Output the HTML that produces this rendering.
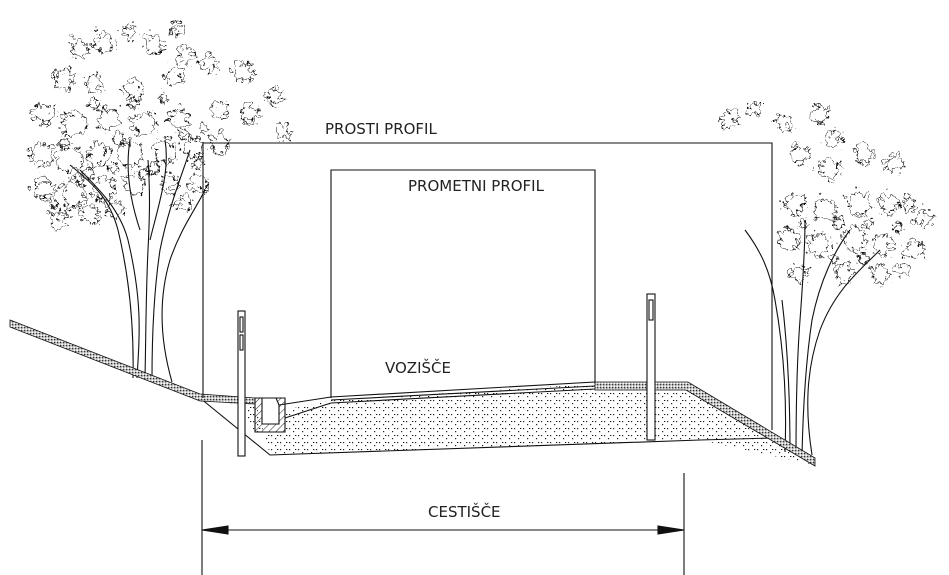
<!DOCTYPE html>
<html><head><meta charset="utf-8"><style>
html,body{margin:0;padding:0;background:#fff;}
svg{display:block}
text{font-family:"DejaVu Sans","Liberation Sans",sans-serif;font-size:15px;fill:#222;}
</style></head><body>
<svg width="949" height="575" viewBox="0 0 949 575" xmlns="http://www.w3.org/2000/svg">
<defs>
<pattern id="dots" width="9" height="7" patternUnits="userSpaceOnUse">
<rect x="1" y="1" width="1.2" height="1.2" fill="#222"/><rect x="5" y="4" width="1.2" height="1.2" fill="#222"/><rect x="7" y="1" width="1.3" height="1" fill="#111"/>
</pattern>
<pattern id="grav" width="3" height="3" patternUnits="userSpaceOnUse">
<rect width="3" height="3" fill="#bbb"/><rect x="0" y="0" width="1.2" height="1.2" fill="#333"/><rect x="1.5" y="1.5" width="1.5" height="1.5" fill="#fff"/>
</pattern>
<pattern id="hatch" width="5" height="5" patternUnits="userSpaceOnUse" patternTransform="rotate(45)">
<line x1="0" y1="0" x2="0" y2="5" stroke="#222" stroke-width="1"/>
</pattern>
<filter id="wig" x="-20%" y="-20%" width="140%" height="140%">
<feTurbulence type="turbulence" baseFrequency="0.12" numOctaves="2" seed="3" result="t"/>
<feDisplacementMap in="SourceGraphic" in2="t" scale="16" xChannelSelector="R" yChannelSelector="G"/>
</filter>
<filter id="wig2" x="-20%" y="-20%" width="140%" height="140%">
<feTurbulence type="turbulence" baseFrequency="0.2" numOctaves="1" seed="8" result="t"/>
<feDisplacementMap in="SourceGraphic" in2="t" scale="10" xChannelSelector="R" yChannelSelector="G"/>
</filter>
</defs>
<g fill="none" stroke="#111" stroke-width="1.1">
<!-- left tree foliage -->
<g filter="url(#wig)">
<circle cx="75" cy="45" r="8"/><circle cx="100" cy="38" r="9"/><circle cx="125" cy="28" r="7"/><circle cx="150" cy="40" r="9"/><circle cx="175" cy="25" r="6"/><circle cx="182" cy="50" r="8"/>
<circle cx="60" cy="75" r="10"/><circle cx="90" cy="80" r="9"/><circle cx="130" cy="85" r="10"/><circle cx="170" cy="72" r="9"/><circle cx="205" cy="60" r="8"/><circle cx="240" cy="68" r="9"/><circle cx="270" cy="92" r="8"/>
<circle cx="40" cy="110" r="10"/><circle cx="70" cy="120" r="12"/><circle cx="105" cy="115" r="10"/><circle cx="140" cy="120" r="11"/><circle cx="175" cy="115" r="10"/><circle cx="215" cy="105" r="9"/><circle cx="245" cy="110" r="9"/><circle cx="280" cy="128" r="7"/>
<circle cx="38" cy="150" r="11"/><circle cx="65" cy="155" r="12"/><circle cx="95" cy="150" r="11"/><circle cx="125" cy="150" r="12"/><circle cx="160" cy="148" r="11"/><circle cx="190" cy="145" r="10"/><circle cx="215" cy="140" r="9"/>
<circle cx="40" cy="185" r="10"/><circle cx="70" cy="190" r="12"/><circle cx="100" cy="185" r="11"/><circle cx="130" cy="180" r="10"/><circle cx="165" cy="180" r="9"/><circle cx="195" cy="180" r="8"/>
<circle cx="55" cy="215" r="9"/><circle cx="85" cy="210" r="9"/><circle cx="110" cy="205" r="8"/><circle cx="180" cy="200" r="7"/><circle cx="60" cy="210" r="5"/>
</g>
<g filter="url(#wig2)">
<circle cx="60" cy="140" r="5"/><circle cx="85" cy="170" r="5"/><circle cx="115" cy="135" r="6"/><circle cx="150" cy="165" r="5"/><circle cx="180" cy="130" r="5"/><circle cx="90" cy="100" r="5"/><circle cx="130" cy="100" r="5"/><circle cx="50" cy="200" r="4"/><circle cx="195" cy="160" r="5"/><circle cx="160" cy="95" r="4"/>
<circle cx="75" cy="175" r="4"/><circle cx="110" cy="165" r="4"/><circle cx="140" cy="170" r="5"/><circle cx="200" cy="125" r="4"/>
</g>
<!-- left trunk -->
<path d="M137,378 C140,330 142,300 128,240 C120,210 100,190 80,170"/>
<path d="M172,382 C160,340 158,300 170,260 C180,230 195,210 205,190"/>
<path d="M145,378 C146,330 146,290 148,250 C150,210 150,190 148,160"/>
<path d="M152,378 C152,330 154,290 160,250 C168,210 180,180 190,150"/>
<path d="M133,378 C134,330 130,280 118,230 C110,200 95,185 70,165"/>
<path d="M150,240 C160,200 170,170 165,140 M140,230 C130,200 125,170 130,140"/>
<!-- right tree foliage -->
<g filter="url(#wig)">
<circle cx="725" cy="115" r="8"/><circle cx="750" cy="105" r="7"/><circle cx="780" cy="118" r="8"/><circle cx="815" cy="110" r="8"/><circle cx="830" cy="135" r="7"/>
<circle cx="795" cy="150" r="9"/><circle cx="825" cy="165" r="10"/><circle cx="860" cy="150" r="9"/><circle cx="890" cy="160" r="8"/><circle cx="905" cy="200" r="7"/>
<circle cx="790" cy="200" r="10"/><circle cx="820" cy="205" r="11"/><circle cx="855" cy="200" r="11"/><circle cx="885" cy="200" r="9"/><circle cx="920" cy="215" r="8"/>
<circle cx="785" cy="235" r="10"/><circle cx="815" cy="240" r="11"/><circle cx="850" cy="235" r="11"/><circle cx="880" cy="240" r="10"/><circle cx="910" cy="245" r="9"/>
<circle cx="795" cy="270" r="8"/><circle cx="840" cy="270" r="9"/><circle cx="875" cy="270" r="9"/><circle cx="900" cy="265" r="6"/>
</g>
<g filter="url(#wig2)">
<circle cx="800" cy="220" r="4"/><circle cx="835" cy="220" r="5"/><circle cx="865" cy="220" r="4"/><circle cx="830" cy="255" r="4"/><circle cx="860" cy="255" r="5"/><circle cx="895" cy="225" r="4"/>
</g>
<!-- right trunk -->
<path d="M785,452 C787,400 784,350 775,300 C770,270 760,250 745,230"/>
<path d="M812,455 C805,410 806,370 820,330 C835,290 860,270 880,250"/>
<path d="M796,455 C796,410 797,360 800,320 C803,280 805,250 805,220"/>
<path d="M802,455 C803,410 806,360 812,320 C820,280 835,250 850,230"/>
<path d="M790,452 C790,400 788,350 782,300"/>
<!-- ground fill body -->
<path d="M200,398 L255,400 L270,455 L700,440 L815,465 L772,438 L688,384 L595,384 L331,400 L285,410 L285,432 L255,432 L240,405 Z" fill="url(#dots)" stroke="none"/>
<path d="M200,398 L270,455 L700,440 L772,438" />
<!-- left slope gravel band -->
<path d="M10,320 L200,394 L255,398 L255,404 L200,401 L10,327 Z" fill="url(#grav)" stroke="#111" stroke-width="0.8"/>
<!-- right shoulder gravel -->
<path d="M595,382 L688,382 L815,458 L815,466 L686,390 L595,390 Z" fill="url(#grav)" stroke="#111" stroke-width="0.8"/>
<!-- road surface -->
<path d="M279,405 L331,397 L595,382" />
<path d="M331,400 L595,386" />
<path d="M331,403 L595,389" />
<path d="M285,418 L331,403" />
<!-- ditch -->
<path d="M255,398 L285,398 L285,432 L255,432 Z" fill="url(#hatch)"/>
<path d="M262,398 L276,398 L279,405 L279,424 L262,424 Z" fill="#fff"/>
<!-- prosti profil box -->
<path d="M203,398 L203,143 L772,143 L772,430" />
<!-- prometni profil box -->
<path d="M331,398 L331,170 L595,170 L595,384" />
<!-- poles -->
<rect x="238" y="311" width="7" height="145" fill="#fff"/>
<rect x="240" y="317" width="3" height="15"/><rect x="240" y="335" width="3" height="15"/>
<rect x="647" y="294" width="8" height="146" fill="#fff"/>
<rect x="649" y="300" width="4" height="20"/>
<!-- dimension -->
<path d="M202,440 L202,575 M684,473 L684,575 M202,530 L684,530" />
<path d="M202,530 L228,526 L228,534 Z M684,530 L658,526 L658,534 Z" fill="#111"/>
</g>
<text x="325" y="134">PROSTI PROFIL</text>
<text x="408" y="191">PROMETNI PROFIL</text>
<text x="385" y="373">VOZIŠČE</text>
<text x="428" y="517">CESTIŠČE</text>
</svg>
</body></html>
